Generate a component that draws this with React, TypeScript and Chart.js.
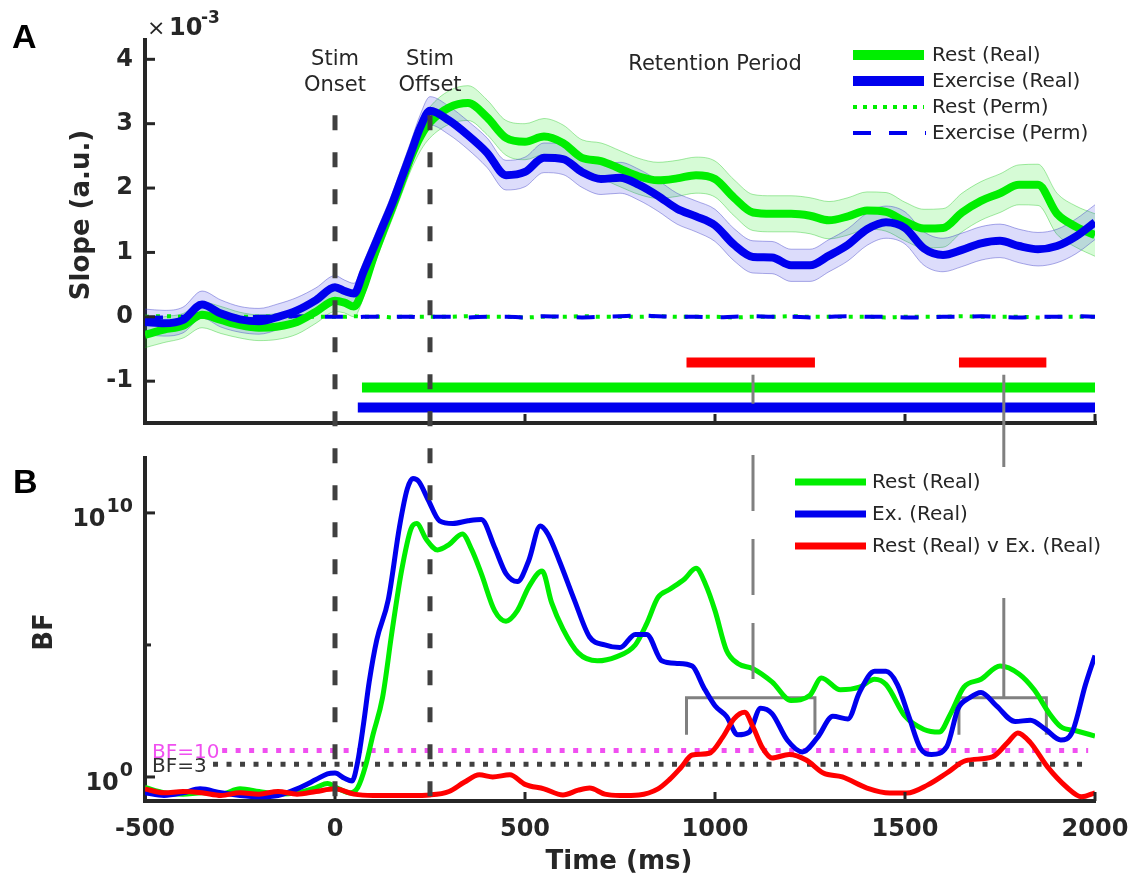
import React, { useEffect, useRef } from "react";
import { Chart, registerables } from "chart.js";
Chart.register(...registerables);

// ---------- Panel A data (slope, x10^-3) ----------
const timeA = [-500, -450, -400, -350, -300, -250, -200, -150, -100, -50, 0,
  25, 50, 75, 100, 125, 150, 175, 200, 225, 250,
  300, 350, 400, 450, 500, 550, 600, 650, 700, 750, 800, 850, 900, 950, 1000, 1050, 1100, 1150, 1200, 1250,
  1300, 1350, 1400, 1450, 1500, 1550, 1600, 1650, 1700, 1750, 1800, 1850, 1900, 1950, 2000];
const restSlope = [-0.28, -0.20, -0.14, 0.03, -0.05, -0.13, -0.17, -0.15, -0.08, 0.08, 0.25,
  0.22, 0.16, 0.45, 0.90, 1.30, 1.68, 2.08, 2.48, 2.80, 3.02,
  3.25, 3.32, 3.10, 2.78, 2.72, 2.80, 2.70, 2.47, 2.42, 2.30, 2.18, 2.12, 2.15, 2.20, 2.14, 1.85, 1.62, 1.60, 1.60, 1.57,
  1.50, 1.56, 1.65, 1.63, 1.48, 1.37, 1.38, 1.62, 1.80, 1.92, 2.05, 2.05, 1.60, 1.40, 1.27];
const restSem = [0.20, 0.20, 0.19, 0.20, 0.21, 0.20, 0.20, 0.20, 0.19, 0.18, 0.17,
  0.16, 0.16, 0.15, 0.15, 0.16, 0.17, 0.18, 0.20, 0.22, 0.24,
  0.26, 0.27, 0.27, 0.27, 0.28, 0.28, 0.28, 0.28, 0.28, 0.28, 0.28, 0.28, 0.28, 0.28, 0.28, 0.28, 0.28, 0.28, 0.28, 0.28,
  0.29, 0.29, 0.29, 0.30, 0.30, 0.30, 0.30, 0.30, 0.30, 0.30, 0.31, 0.32, 0.32, 0.32, 0.33];
const exSlope = [-0.08, -0.10, -0.05, 0.19, 0.05, -0.04, -0.07, 0.00, 0.10, 0.26, 0.46,
  0.40, 0.36, 0.70, 1.05, 1.40, 1.75, 2.15, 2.55, 2.95, 3.20,
  3.05, 2.82, 2.55, 2.20, 2.25, 2.47, 2.45, 2.25, 2.14, 2.16, 2.05, 1.88, 1.68, 1.56, 1.42, 1.12, 0.93, 0.92, 0.80, 0.80,
  0.95, 1.12, 1.36, 1.47, 1.38, 1.06, 0.96, 1.04, 1.14, 1.18, 1.10, 1.05, 1.10, 1.25, 1.47];
const exSem = [0.20, 0.20, 0.20, 0.21, 0.21, 0.20, 0.20, 0.20, 0.20, 0.19, 0.18,
  0.17, 0.16, 0.15, 0.15, 0.15, 0.16, 0.17, 0.18, 0.20, 0.22,
  0.22, 0.22, 0.23, 0.23, 0.23, 0.23, 0.24, 0.24, 0.24, 0.24, 0.24, 0.24, 0.24, 0.24, 0.25, 0.25, 0.25, 0.25, 0.25, 0.25,
  0.25, 0.25, 0.25, 0.25, 0.25, 0.26, 0.26, 0.26, 0.26, 0.26, 0.26, 0.26, 0.26, 0.27, 0.27];
const restPerm = [0.00, 0.01, 0.00, 0.00, -0.01, 0.00, 0.00, 0.01, 0.00, 0.00, 0.00,
  0.00, 0.01, 0.00, 0.00, 0.00, -0.01, 0.00, 0.00, 0.00, 0.00,
  0.00, 0.01, 0.00, 0.00, -0.01, 0.00, 0.00, 0.01, 0.00, 0.00, 0.00, 0.01, 0.00, 0.00, 0.00, -0.01, 0.00, 0.00, 0.01, 0.00,
  0.00, 0.00, 0.00, -0.01, 0.00, 0.00, 0.00, 0.01, 0.00, 0.00, 0.00, -0.01, 0.00, 0.00, 0.00];
const exPerm = [-0.02, -0.01, 0.00, 0.01, 0.00, -0.01, 0.00, 0.00, 0.01, 0.00, 0.00,
  0.00, -0.01, 0.00, 0.00, 0.01, 0.00, 0.00, 0.00, -0.01, 0.00,
  0.00, -0.01, 0.00, 0.00, -0.01, 0.01, 0.00, -0.01, 0.00, 0.01, 0.02, 0.01, 0.00, 0.00, -0.01, 0.00, 0.01, 0.00, 0.00, -0.01,
  0.00, 0.01, 0.00, 0.00, -0.01, -0.01, 0.00, 0.00, 0.01, 0.00, -0.01, 0.00, 0.00, 0.01, 0.00];

// significance windows (ms) and their plotting levels (slope units)
const restSigWindow = [71, 2000];
const exSigWindow = [60, 2000];
const diffSigWindows = [[925, 1263], [1642, 1872]];
const sigLevels = { diff: -0.71, rest: -1.1, ex: -1.41 };
const sigStems = [1100, 1760];

// ---------- Panel B data (log10 Bayes factor) ----------
const restBFLog = [[-500, -0.4], [-450, -0.6], [-400, -0.65], [-350, -0.6], [-300, -0.65], [-250, -0.45], [-200, -0.55],
  [-150, -0.65], [-100, -0.6], [-50, -0.4], [-20, -0.25], [10, -0.45], [40, -0.6], [60, -0.4], [80, 0.4], [100, 1.6],
  [125, 3.0], [150, 5.5], [175, 7.8], [200, 9.4], [215, 9.6], [240, 9.0], [270, 8.6], [300, 8.8], [335, 9.2], [360, 8.6],
  [385, 7.7], [420, 6.3], [450, 5.9], [480, 6.3], [510, 7.2], [545, 7.8], [570, 6.6], [600, 5.6], [640, 4.7], [690, 4.4],
  [740, 4.55], [790, 5.0], [820, 5.8], [850, 6.8], [880, 7.1], [920, 7.5], [950, 7.9], [975, 7.3], [1000, 6.3], [1030, 4.8],
  [1060, 4.3], [1100, 4.1], [1150, 3.6], [1200, 2.9], [1250, 3.1], [1280, 3.75], [1330, 3.3], [1380, 3.4], [1420, 3.7],
  [1450, 3.5], [1500, 2.3], [1550, 1.8], [1590, 1.7], [1620, 2.4], [1655, 3.4], [1700, 3.7], [1750, 4.2], [1800, 3.9],
  [1840, 3.3], [1880, 2.4], [1910, 1.9], [1950, 1.75], [2000, 1.55]];
const exBFLog = [[-500, -0.6], [-450, -0.7], [-400, -0.6], [-355, -0.45], [-300, -0.6], [-250, -0.7], [-200, -0.75],
  [-150, -0.7], [-100, -0.45], [-50, -0.1], [-20, 0.12], [0, 0.15], [25, -0.05], [45, -0.15], [60, 0.6], [75, 2.0],
  [90, 3.6], [110, 5.2], [140, 6.7], [170, 9.5], [190, 10.9], [205, 11.3], [220, 11.2], [245, 10.5], [275, 9.7], [310, 9.6],
  [350, 9.7], [385, 9.75], [420, 8.7], [450, 7.7], [480, 7.4], [510, 8.2], [540, 9.5], [560, 9.2], [590, 8.2], [630, 6.7],
  [670, 5.3], [710, 5.0], [750, 4.9], [790, 5.4], [820, 5.4], [860, 4.4], [900, 4.3], [940, 4.2], [970, 3.4], [1000, 2.7],
  [1030, 2.3], [1060, 1.6], [1090, 1.7], [1120, 2.6], [1150, 2.4], [1190, 1.4], [1230, 0.95], [1270, 1.5], [1310, 2.3],
  [1350, 2.2], [1380, 3.2], [1420, 4.0], [1450, 4.0], [1480, 3.5], [1510, 2.3], [1540, 1.1], [1570, 0.85], [1610, 1.15],
  [1640, 2.6], [1670, 3.0], [1700, 3.2], [1740, 2.7], [1790, 2.1], [1830, 2.15], [1870, 1.8], [1910, 1.4], [1940, 1.7],
  [1975, 3.5], [2000, 4.6]];
const diffBFLog = [[-500, -0.45], [-450, -0.6], [-400, -0.55], [-350, -0.6], [-300, -0.7], [-250, -0.6], [-200, -0.65],
  [-150, -0.55], [-100, -0.65], [-50, -0.55], [0, -0.45], [50, -0.65], [100, -0.7], [150, -0.7], [200, -0.7], [250, -0.68],
  [300, -0.55], [340, -0.2], [380, 0.08], [415, 0.0], [460, 0.08], [500, -0.28], [550, -0.45], [600, -0.68], [640, -0.5],
  [670, -0.42], [710, -0.65], [750, -0.7], [800, -0.68], [850, -0.45], [880, -0.1], [910, 0.35], [940, 0.83], [985, 0.9],
  [1020, 1.5], [1050, 2.2], [1078, 2.45], [1100, 1.9], [1125, 1.1], [1150, 0.72], [1195, 0.85], [1240, 0.64], [1285, 0.15],
  [1335, 0.0], [1400, -0.42], [1460, -0.61], [1505, -0.61], [1560, -0.3], [1610, 0.15], [1660, 0.62], [1730, 0.76],
  [1770, 1.3], [1797, 1.67], [1830, 1.3], [1875, 0.38], [1925, -0.38], [1965, -0.75], [2000, -0.6]];
const bfThresholds = [10, 3];
const bfThresholdSpan = [[-297, 1982], [-321, 1982]];
const bracketBF = { low: 40, high: 1000 };

// ---------- ticks / labels ----------
const xTicks = [-500, 0, 500, 1000, 1500, 2000];
const slopeTicks = [-1, 0, 1, 2, 3, 4];
const bfTicks = [1, 1e5, 1e10];
const bfTickExponents = ["0", "", "10"];
const eventTimes = [0, 250];
const legendA = ["Rest (Real)", "Exercise (Real)", "Rest (Perm)", "Exercise (Perm)"];
const legendB = ["Rest (Real)", "Ex. (Real)", "Rest (Real) v Ex. (Real)"];

const AXIS = "#262626";
const FONT = "'DejaVu Sans', sans-serif";
const GREEN = "#00ee00";
const BLUE = "#0000ee";
const RED = "#ff0000";
const GRAY = "#808080";
const MAGENTA = "#f050f0";

export default function App() {
  const ref = useRef<HTMLCanvasElement>(null);
  useEffect(() => {
    const canvas = ref.current;
    if (!canvas) return;
    const xy = (ts: number[], vs: number[]) => ts.map((t, i) => ({ x: t, y: vs[i] }));
    const logPts = (pairs: number[][]) => pairs.map(([t, l]) => ({ x: t, y: Math.pow(10, l) }));
    const base: any = { pointRadius: 0, fill: false, borderCapStyle: "butt", borderJoinStyle: "round", cubicInterpolationMode: "monotone" };
    const flat: any = { pointRadius: 0, fill: false, borderCapStyle: "butt", borderJoinStyle: "miter", tension: 0 };
    const layers: any[] = [];
    // bands
    layers.push({ ...base, yAxisID: "yA", data: xy(timeA, restSlope.map((v, i) => v + restSem[i])), borderColor: "rgba(0,190,0,0.35)", borderWidth: 1 });
    layers.push({ ...base, yAxisID: "yA", data: xy(timeA, restSlope.map((v, i) => v - restSem[i])), borderColor: "rgba(0,190,0,0.35)", borderWidth: 1, fill: "-1", backgroundColor: "rgba(0,230,0,0.16)" });
    layers.push({ ...base, yAxisID: "yA", data: xy(timeA, exSlope.map((v, i) => v + exSem[i])), borderColor: "rgba(70,70,200,0.45)", borderWidth: 1 });
    layers.push({ ...base, yAxisID: "yA", data: xy(timeA, exSlope.map((v, i) => v - exSem[i])), borderColor: "rgba(70,70,200,0.45)", borderWidth: 1, fill: "-1", backgroundColor: "rgba(40,40,230,0.16)" });
    // permutation lines
    layers.push({ ...base, yAxisID: "yA", data: xy(timeA, restPerm), borderColor: GREEN, borderWidth: 4, borderDash: [4, 7] });
    layers.push({ ...base, yAxisID: "yA", data: xy(timeA, exPerm), borderColor: BLUE, borderWidth: 4, borderDash: [18, 18] });
    // real lines
    layers.push({ ...base, yAxisID: "yA", data: xy(timeA, restSlope), borderColor: GREEN, borderWidth: 8 });
    layers.push({ ...base, yAxisID: "yA", data: xy(timeA, exSlope), borderColor: BLUE, borderWidth: 8 });
    // significance bars
    layers.push({ ...flat, yAxisID: "yA", data: restSigWindow.map((t) => ({ x: t, y: sigLevels.rest })), borderColor: GREEN, borderWidth: 10 });
    layers.push({ ...flat, yAxisID: "yA", data: exSigWindow.map((t) => ({ x: t, y: sigLevels.ex })), borderColor: BLUE, borderWidth: 10 });
    diffSigWindows.forEach((w) => layers.push({ ...flat, yAxisID: "yA", data: w.map((t) => ({ x: t, y: sigLevels.diff })), borderColor: RED, borderWidth: 10 }));
    // panel B thresholds
    layers.push({ ...flat, yAxisID: "yB", data: bfThresholdSpan[0].map((t) => ({ x: t, y: bfThresholds[0] })), borderColor: MAGENTA, borderWidth: 5, borderDash: [5, 8.5] });
    layers.push({ ...flat, yAxisID: "yB", data: bfThresholdSpan[1].map((t) => ({ x: t, y: bfThresholds[1] })), borderColor: "#404040", borderWidth: 5, borderDash: [5, 8.5] });
    // brackets
    diffSigWindows.forEach((w) => layers.push({ ...flat, yAxisID: "yB", data: [
      { x: w[0], y: bracketBF.low }, { x: w[0], y: bracketBF.high }, { x: w[1], y: bracketBF.high }, { x: w[1], y: bracketBF.low }],
      borderColor: GRAY, borderWidth: 3 }));
    // BF curves
    layers.push({ ...base, yAxisID: "yB", data: logPts(restBFLog), borderColor: GREEN, borderWidth: 5 });
    layers.push({ ...base, yAxisID: "yB", data: logPts(exBFLog), borderColor: BLUE, borderWidth: 5 });
    layers.push({ ...base, yAxisID: "yB", data: logPts(diffBFLog), borderColor: RED, borderWidth: 5 });
    layers.forEach((d, i) => { d.order = layers.length - i; });

    const tickFont = { family: FONT, weight: "bold" as const, size: 24 };

    const overlay = {
      id: "overlay",
      afterDatasetsDraw(chart: any) {
        const ctx = chart.ctx as CanvasRenderingContext2D;
        const x = chart.scales.x, yA = chart.scales.yA, yB = chart.scales.yB;
        const px = (t: number) => x.getPixelForValue(t);
        const line = (x1: number, y1: number, x2: number, y2: number) => { ctx.beginPath(); ctx.moveTo(x1, y1); ctx.lineTo(x2, y2); ctx.stroke(); };
        ctx.save();
        ctx.lineCap = "butt";
        // panel A bottom axis
        ctx.strokeStyle = AXIS; ctx.lineWidth = 4;
        line(x.left - 2, yA.bottom, x.right + 2, yA.bottom);
        // inward ticks
        ctx.lineWidth = 3;
        xTicks.forEach((t) => {
          if (t === xTicks[0]) return;
          const p = px(t);
          line(p, yA.bottom, p, yA.bottom - 9);
          line(p, yB.bottom, p, yB.bottom - 9);
        });
        slopeTicks.forEach((v) => { const y = yA.getPixelForValue(v); line(yA.right, y, yA.right + 10, y); });
        bfTicks.forEach((v) => { const y = yB.getPixelForValue(v); line(yB.right, y, yB.right + (v === 1e5 ? 6 : 10), y); });
        // BF tick labels with superscript exponents
        ctx.fillStyle = AXIS; ctx.textAlign = "right"; ctx.textBaseline = "alphabetic";
        bfTicks.forEach((v, i) => {
          const e = bfTickExponents[i];
          if (!e) return;
          const y = yB.getPixelForValue(v);
          const rx = yB.right - 12;
          ctx.font = `bold 19px ${FONT}`;
          const w = ctx.measureText(e).width;
          ctx.fillText(e, rx, y - 1);
          ctx.font = `bold 24px ${FONT}`;
          ctx.fillText("10", rx - w - 1, y + 13);
        });
        // stems
        ctx.strokeStyle = GRAY; ctx.lineWidth = 3;
        const s1 = px(sigStems[0]);
        line(s1, yA.getPixelForValue(-0.9), s1, yA.getPixelForValue(-1.35));
        ctx.setLineDash([56, 28]);
        line(s1, yB.top - 3, s1, yB.getPixelForValue(bracketBF.high));
        ctx.setLineDash([]);
        const s2 = px(sigStems[1]);
        line(s2, yA.getPixelForValue(-0.9), s2, yB.getPixelForValue(bracketBF.high));
        // event lines
        ctx.strokeStyle = "#404040"; ctx.lineWidth = 5;
        ctx.setLineDash([15, 22]);
        eventTimes.forEach((t) => line(px(t), yA.getPixelForValue(3.13), px(t), yB.bottom));
        ctx.setLineDash([]);

        // legend A
        ctx.fillStyle = "#ffffff";
        ctx.fillRect(845, 42, 255, 103);
        const la = [55, 81, 107, 133];
        const sx0 = 853, sx1 = 924;
        ctx.lineWidth = 10; ctx.strokeStyle = GREEN; line(sx0, la[0], sx1, la[0]);
        ctx.strokeStyle = BLUE; line(sx0, la[1], sx1, la[1]);
        ctx.lineWidth = 4; ctx.strokeStyle = GREEN; ctx.setLineDash([4, 6]); line(sx0, la[2], sx1, la[2]);
        ctx.strokeStyle = BLUE; ctx.setLineDash([18, 18]); line(sx0, la[3], sx1 + 2, la[3]);
        ctx.setLineDash([]);
        ctx.fillStyle = AXIS; ctx.font = `20px ${FONT}`; ctx.textAlign = "left"; ctx.textBaseline = "middle";
        legendA.forEach((s, i) => ctx.fillText(s, 932, la[i] + 1));

        // legend B
        ctx.fillStyle = "#ffffff";
        ctx.fillRect(788, 467, 322, 131);
        const lb = [482, 514, 546];
        ctx.lineWidth = 7;
        [GREEN, BLUE, RED].forEach((c, i) => { ctx.strokeStyle = c; line(795, lb[i], 866, lb[i]); });
        ctx.fillStyle = AXIS; ctx.font = `20px ${FONT}`;
        legendB.forEach((s, i) => ctx.fillText(s, 872, lb[i] + 1));

        // BF threshold labels
        ctx.font = `20px ${FONT}`; ctx.textBaseline = "alphabetic";
        ctx.fillStyle = MAGENTA; ctx.fillText("BF=10", 152, 758);
        ctx.fillStyle = "#303030"; ctx.fillText("BF=3", 152, 772);

        // annotations
        ctx.fillStyle = AXIS; ctx.textAlign = "center"; ctx.font = `21px ${FONT}`;
        ctx.fillText("Stim", px(0), 65); ctx.fillText("Onset", px(0), 91);
        ctx.fillText("Stim", px(250), 65); ctx.fillText("Offset", px(250), 91);
        ctx.fillText("Retention Period", px(1000), 70);

        // exponent
        ctx.textAlign = "left";
        ctx.font = `22px ${FONT}`; ctx.fillText("×", 147, 35);
        ctx.font = `bold 24px ${FONT}`; ctx.fillText("10", 169, 35);
        ctx.font = `bold 17px ${FONT}`; ctx.fillText("-3", 201, 23);

        // panel letters
        ctx.fillStyle = "#000"; ctx.font = "bold 34px 'Liberation Sans', Arial, sans-serif";
        ctx.fillText("A", 12, 48); ctx.fillText("B", 13, 493);

        // axis titles
        ctx.fillStyle = AXIS; ctx.font = `bold 26px ${FONT}`; ctx.textAlign = "center"; ctx.textBaseline = "middle";
        ctx.fillText("Time (ms)", 619, 862);
        ctx.save(); ctx.translate(82, 215); ctx.rotate(-Math.PI / 2); ctx.fillText("Slope (a.u.)", 0, 0); ctx.restore();
        ctx.save(); ctx.translate(45, 632); ctx.rotate(-Math.PI / 2); ctx.fillText("BF", 0, 0); ctx.restore();
        ctx.restore();
      },
    };

    const yCommon: any = {
      position: "left", stack: "panels", grid: { display: false, drawTicks: false },
      afterFit: (s: any) => { s.width = 145; },
    };

    const chart = new Chart(canvas, {
      type: "line",
      data: { datasets: layers },
      plugins: [overlay],
      options: {
        animation: false, responsive: false, devicePixelRatio: 1,
        layout: { padding: { top: 40, right: 40, bottom: 0, left: 0 } },
        plugins: { legend: { display: false }, tooltip: { enabled: false } },
        scales: {
          x: {
            type: "linear", position: "bottom", min: -500, max: 2000,
            afterBuildTicks: (s: any) => { s.ticks = xTicks.map((v) => ({ value: v })); },
            ticks: { callback: (v: any) => String(v), font: tickFont, color: AXIS, padding: 14, maxRotation: 0, autoSkip: false },
            grid: { display: false, drawTicks: false },
            border: { display: true, color: AXIS, width: 4 },
            afterFit: (s: any) => { s.height = 81; s.paddingLeft = 0; s.paddingRight = 0; },
          },
          yB: {
            ...yCommon, type: "logarithmic", stackWeight: 343, min: Math.pow(10, -0.91), max: Math.pow(10, 12.08),
            afterBuildTicks: (s: any) => { s.ticks = bfTicks.map((v) => ({ value: v })); },
            ticks: { autoSkip: false, font: tickFont, color: AXIS, padding: 12, callback: () => "" },
            border: { display: true, color: AXIS, width: 4 },
          },
          yGap: {
            ...yCommon, type: "linear", stackWeight: 35, min: 0, max: 1,
            ticks: { display: false }, border: { display: false },
          },
          yA: {
            ...yCommon, type: "linear", stackWeight: 383, min: -1.65, max: 4.3,
            afterBuildTicks: (s: any) => { s.ticks = slopeTicks.map((v) => ({ value: v })); },
            ticks: { autoSkip: false, font: tickFont, color: AXIS, padding: 12, callback: (v: any) => String(v) },
            border: { display: true, color: AXIS, width: 4 },
          },
        },
      } as any,
    });
    return () => chart.destroy();
  }, []);

  return (
    <div style={{ position: "fixed", left: 0, top: 0, width: 1135, height: 882, background: "#fff" }}>
      <canvas ref={ref} width={1135} height={882} style={{ display: "block" }} />
    </div>
  );
}
